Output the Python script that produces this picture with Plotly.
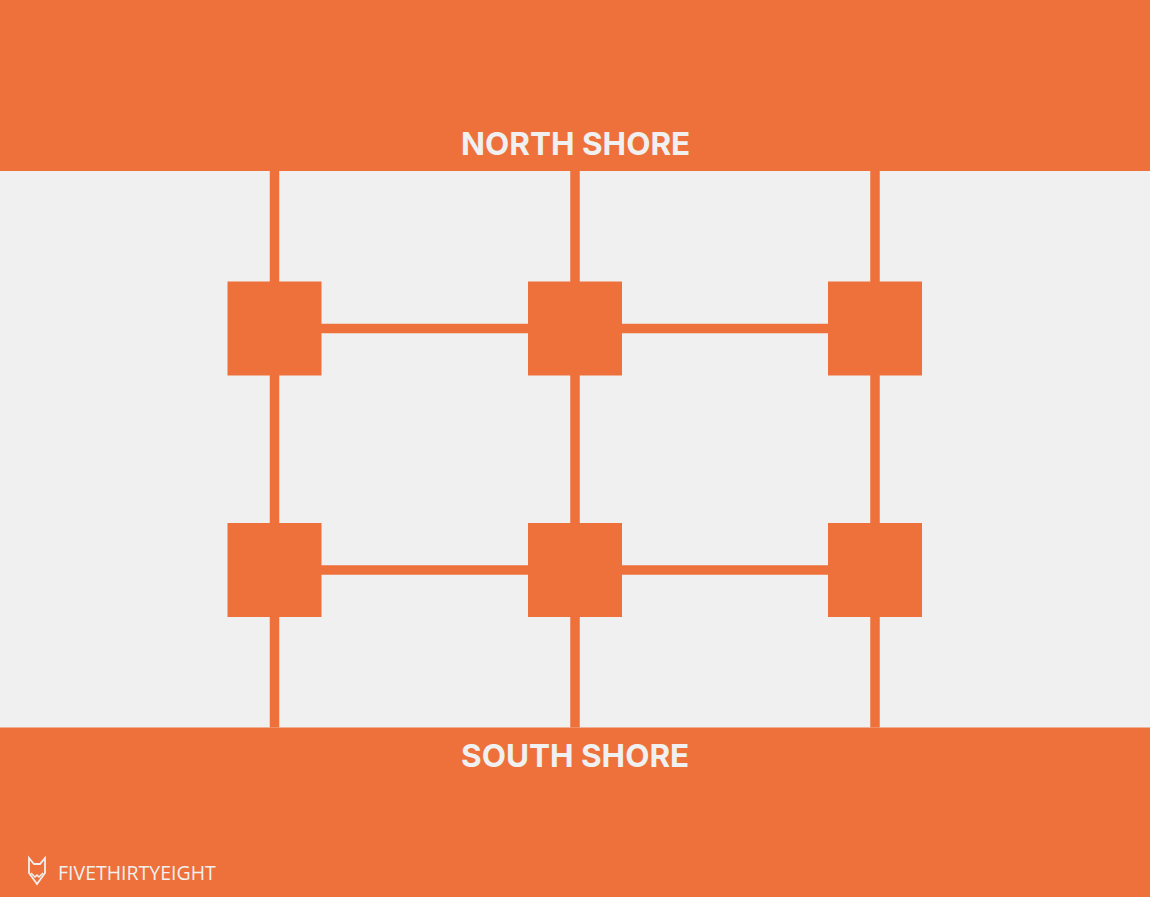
import plotly.graph_objects as go

# Bridge layout (pixel-like units, y grows downward)
pier_x = [274.5, 575, 875]          # vertical piers crossing the channel
node_y = [328.5, 570]               # rows of square pillars
north_shore_edge = 171
south_shore_edge = 727.5
canvas_w, canvas_h = 1150, 897

shore_labels = ["NORTH SHORE", "SOUTH SHORE"]
shore_label_y = [143.5, 755.5]

ORANGE = "#EE703B"
GREY = "#F0F0F0"

fig = go.Figure()

# Shore bands
fig.add_shape(type="rect", x0=0, x1=canvas_w, y0=0, y1=north_shore_edge,
              fillcolor=ORANGE, line_width=0, layer="below")
fig.add_shape(type="rect", x0=0, x1=canvas_w, y0=south_shore_edge, y1=canvas_h,
              fillcolor=ORANGE, line_width=0, layer="below")

# Vertical piers from shore to shore
for px_ in pier_x:
    fig.add_trace(go.Scatter(x=[px_, px_], y=[north_shore_edge, south_shore_edge],
                             mode="lines", line=dict(color=ORANGE, width=9.5),
                             hoverinfo="skip"))

# Horizontal connectors between pillars
for ny in node_y:
    fig.add_trace(go.Scatter(x=[pier_x[0], pier_x[-1]], y=[ny, ny],
                             mode="lines", line=dict(color=ORANGE, width=9.5),
                             hoverinfo="skip"))

# Square pillars
nx = [p for ny in node_y for p in pier_x]
nys = [ny for ny in node_y for p in pier_x]
fig.add_trace(go.Scatter(x=nx, y=nys, mode="markers",
                         marker=dict(symbol="square", size=94, color=ORANGE,
                                     line=dict(width=0)),
                         hoverinfo="skip"))

# Shore labels
for label, ly in zip(shore_labels, shore_label_y):
    fig.add_annotation(x=canvas_w / 2, y=ly, text=label, showarrow=False,
                       font=dict(family="Inter", size=31.5, color=GREY, weight="bold"),
                       xanchor="center", yanchor="middle")

# Logo: fox head outline + wordmark
fig.add_shape(type="path",
              path="M 29,858 L 34,864 L 40,864 L 45,858 L 45,873 L 37,884 L 29,873 Z",
              line=dict(color=GREY, width=1.8), fillcolor="rgba(0,0,0,0)")
fig.add_shape(type="path", path="M 31,873 L 35,877 L 37,875 L 39,877 L 43,873",
              line=dict(color=GREY, width=1.5))
fig.add_annotation(x=56, y=872, text="FIVETHIRTYEIGHT", showarrow=False,
                   font=dict(family="Open Sans", size=19.5, color=GREY),
                   xanchor="left", yanchor="middle")

fig.update_xaxes(range=[0, canvas_w], visible=False, fixedrange=True)
fig.update_yaxes(range=[canvas_h, 0], visible=False, fixedrange=True)
fig.update_layout(width=canvas_w, height=canvas_h, showlegend=False,
                  margin=dict(l=0, r=0, t=0, b=0),
                  plot_bgcolor=GREY, paper_bgcolor=GREY)

fig.write_html("out.html", config={"displayModeBar": False},
               post_script="document.body.style.margin='0';")
